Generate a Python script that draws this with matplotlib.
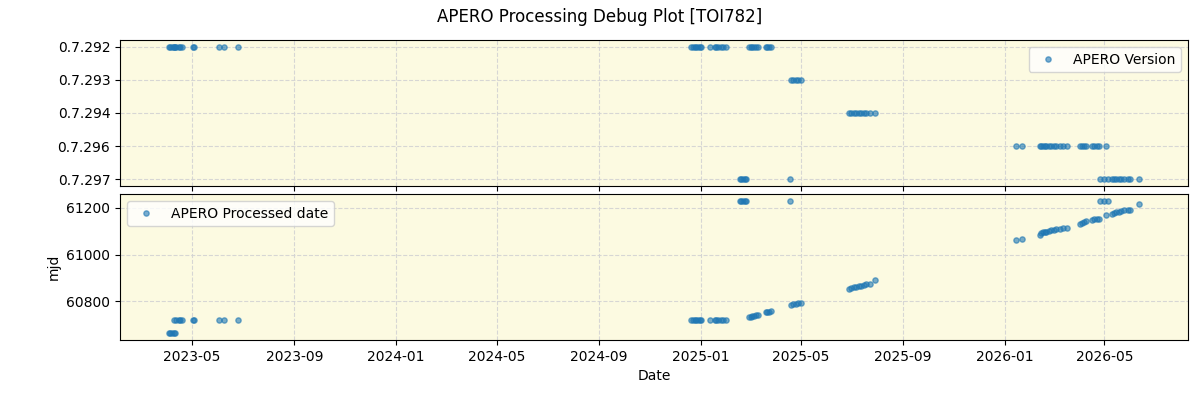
import numpy as np
import pandas as pd
import matplotlib
matplotlib.use("Agg")
import matplotlib.pyplot as plt
import matplotlib.dates as mdates

# version categories, top to bottom
versions = ["0.7.292", "0.7.293", "0.7.294", "0.7.296", "0.7.297"]

# observation date, APERO version, processed date (mjd)
obs_dates = [
    "2023-04-03", "2023-04-05", "2023-04-07", "2023-04-09", "2023-04-11",
    "2023-04-09", "2023-04-12", "2023-04-15", "2023-04-17", "2023-04-19",
    "2023-05-02", "2023-05-03", "2023-06-02", "2023-06-08", "2023-06-25",
    "2024-12-21", "2024-12-23", "2024-12-25", "2024-12-27", "2024-12-29",
    "2024-12-31", "2025-01-02", "2025-01-12", "2025-01-18", "2025-01-20",
    "2025-01-22", "2025-01-25", "2025-01-28", "2025-01-31",
    "2025-02-17", "2025-02-19", "2025-02-21", "2025-02-23", "2025-02-24",
    "2025-04-18",
    "2025-02-28", "2025-03-02", "2025-03-04", "2025-03-06", "2025-03-08",
    "2025-03-11",
    "2025-03-20", "2025-03-22", "2025-03-24", "2025-03-26",
    "2025-04-19", "2025-04-22", "2025-04-25", "2025-04-28", "2025-05-01",
    "2025-06-28", "2025-07-01", "2025-07-04", "2025-07-07", "2025-07-10",
    "2025-07-13", "2025-07-16", "2025-07-19", "2025-07-23", "2025-07-29",
    "2026-01-15", "2026-01-22",
    "2026-02-12", "2026-02-14", "2026-02-16", "2026-02-18", "2026-02-20",
    "2026-02-23", "2026-02-26", "2026-03-01", "2026-03-04", "2026-03-08",
    "2026-03-12", "2026-03-17",
    "2026-04-01", "2026-04-04", "2026-04-07", "2026-04-09",
    "2026-04-16", "2026-04-19", "2026-04-22", "2026-04-25", "2026-05-03",
    "2026-04-26", "2026-04-30", "2026-05-05",
    "2026-05-10", "2026-05-12", "2026-05-15", "2026-05-18", "2026-05-21",
    "2026-05-25", "2026-05-29", "2026-06-01", "2026-06-12",
]

obs_versions = (
    ["0.7.292"] * 15
    + ["0.7.292"] * 14
    + ["0.7.297"] * 6
    + ["0.7.292"] * 6
    + ["0.7.292"] * 4
    + ["0.7.293"] * 5
    + ["0.7.294"] * 10
    + ["0.7.296"] * 23
    + ["0.7.297"] * 12
)

processed_mjd = [
    60664, 60664, 60664, 60664, 60664,
    60723, 60723, 60723, 60723, 60723,
    60723, 60723, 60723, 60723, 60723,
    60719, 60719, 60719, 60719, 60719,
    60719, 60719, 60719, 60719, 60719,
    60719, 60719, 60719, 60719,
    61230, 61230, 61230, 61230, 61230,
    61230,
    60733, 60735, 60737, 60739, 60741,
    60743,
    60756, 60757, 60757, 60758,
    60786, 60788, 60790, 60792, 60795,
    60854, 60857, 60860, 60863, 60866,
    60868, 60870, 60873, 60876, 60890,
    61061, 61065,
    61085, 61093, 61096, 61097, 61098,
    61100, 61103, 61105, 61107, 61110,
    61112, 61115,
    61132, 61136, 61140, 61142,
    61149, 61150, 61152, 61153, 61167,
    61227, 61227, 61227,
    61172, 61178, 61180, 61182, 61185,
    61188, 61190, 61191, 61217,
]

dates = pd.to_datetime(obs_dates)
vidx = np.array([versions.index(v) for v in obs_versions])

fig, (ax1, ax2) = plt.subplots(2, 1, figsize=(12, 4), sharex=True)
fig.subplots_adjust(left=0.1, right=0.99, top=0.9, bottom=0.15, hspace=0.055)
fig.suptitle("APERO Processing Debug Plot [TOI782]")

bg = "#fcfae1"
for ax in (ax1, ax2):
    ax.set_facecolor(bg)
    ax.grid(True, linestyle="--", color="lightgray", alpha=0.9)

ax1.plot(dates, vidx, "o", ms=3.8, alpha=0.6, color="tab:blue", label="APERO Version")
ax1.set_yticks(range(len(versions)))
ax1.set_yticklabels(versions)
ax1.invert_yaxis()
ax1.legend(loc="upper right")

ax2.plot(dates, processed_mjd, "o", ms=3.8, alpha=0.6, color="tab:blue",
         label="APERO Processed date")
ax2.set_ylabel("mjd")
ax2.set_xlabel("Date")
ax2.legend(loc="upper left")

ax2.xaxis.set_major_locator(mdates.MonthLocator(bymonth=[1, 5, 9]))
ax2.xaxis.set_major_formatter(mdates.DateFormatter("%Y-%m"))

plt.savefig("out.png", dpi=100)
